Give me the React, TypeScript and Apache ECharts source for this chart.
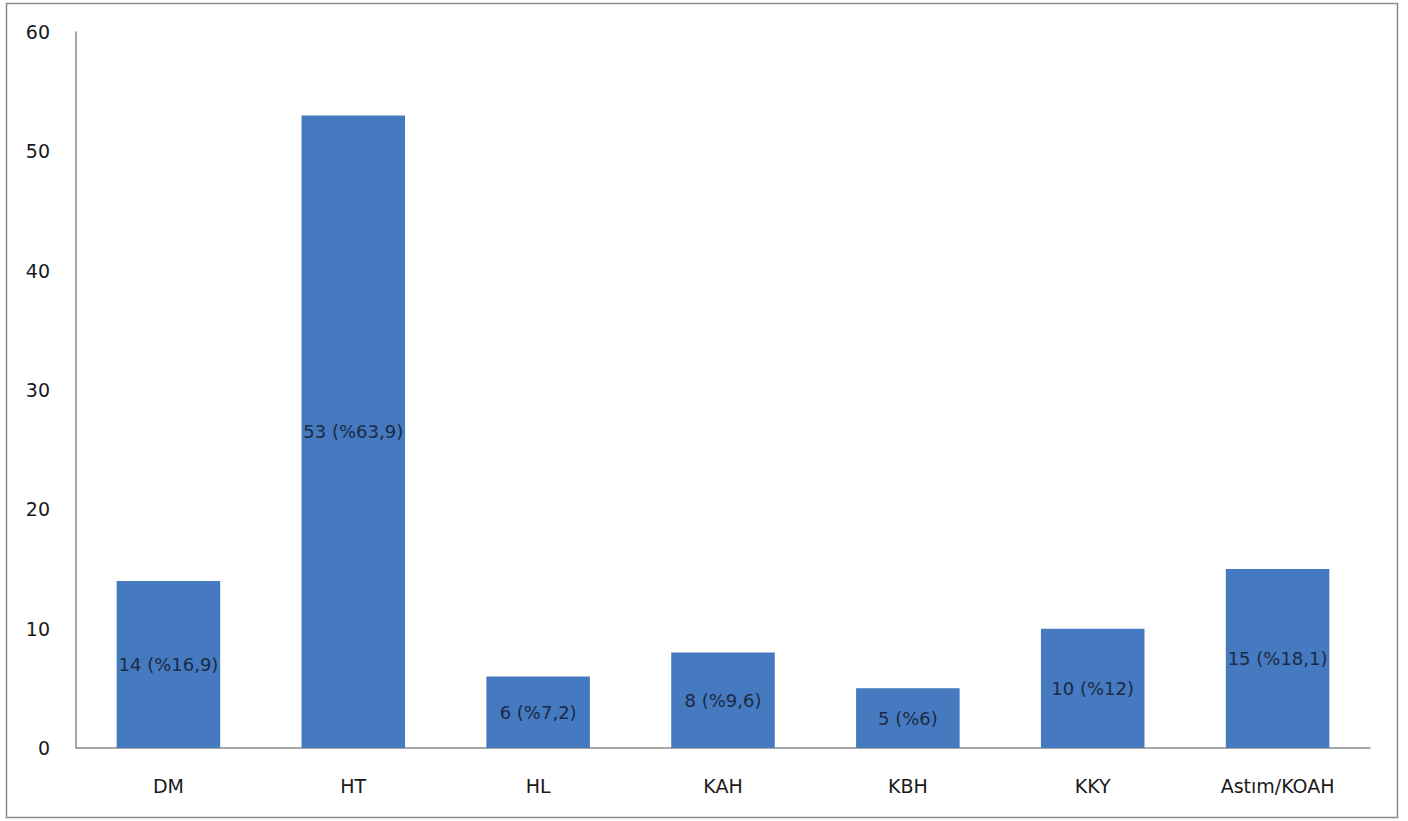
import React, { useEffect, useRef } from "react";
import * as echarts from "echarts";

const categories = ["DM", "HT", "HL", "KAH", "KBH", "KKY", "Astım/KOAH"];
const counts = [14, 53, 6, 8, 5, 10, 15];
const percents = ["16,9", "63,9", "7,2", "9,6", "6", "12", "18,1"];
const yTicks = { min: 0, max: 60, interval: 10 };

export default function App() {
  const ref = useRef<HTMLDivElement>(null);
  useEffect(() => {
    if (!ref.current) return;
    const chart = echarts.init(ref.current, null, { renderer: "svg" });
    chart.setOption({
      animation: false,
      backgroundColor: "#ffffff",
      textStyle: { fontFamily: "DejaVu Sans" },
      graphic: [
        {
          type: "rect",
          shape: { x: 6.5, y: 3.5, width: 1391, height: 814 },
          style: { fill: "none", stroke: "#8c8c8c", lineWidth: 1.5 },
          silent: true,
        },
      ],
      grid: { left: 76, right: 38, top: 32, bottom: 73 },
      xAxis: {
        type: "category",
        data: categories,
        axisLine: { show: true, lineStyle: { color: "#8a8a8a", width: 1.5 } },
        axisTick: { show: false },
        axisLabel: { color: "#1a1a1a", fontSize: 19, margin: 28, fontFamily: "DejaVu Sans" },
      },
      yAxis: {
        type: "value",
        min: yTicks.min,
        max: yTicks.max,
        interval: yTicks.interval,
        axisLine: { show: true, lineStyle: { color: "#8a8a8a", width: 1.5 } },
        axisTick: { show: false },
        splitLine: { show: false },
        axisLabel: { color: "#1a1a1a", fontSize: 19, margin: 26, fontFamily: "DejaVu Sans" },
      },
      series: [
        {
          type: "bar",
          data: counts,
          barCategoryGap: "44%",
          itemStyle: { color: "#4579c0" },
          label: {
            show: true,
            position: "inside",
            color: "#1c2a44",
            fontSize: 18,
            fontFamily: "DejaVu Sans",
            formatter: (p: any) => `${counts[p.dataIndex]} (%${percents[p.dataIndex]})`,
          },
        },
      ],
    });
    return () => chart.dispose();
  }, []);
  return <div ref={ref} style={{ width: 1408, height: 821, position: "absolute", left: 0, top: 0 }} />;
}
